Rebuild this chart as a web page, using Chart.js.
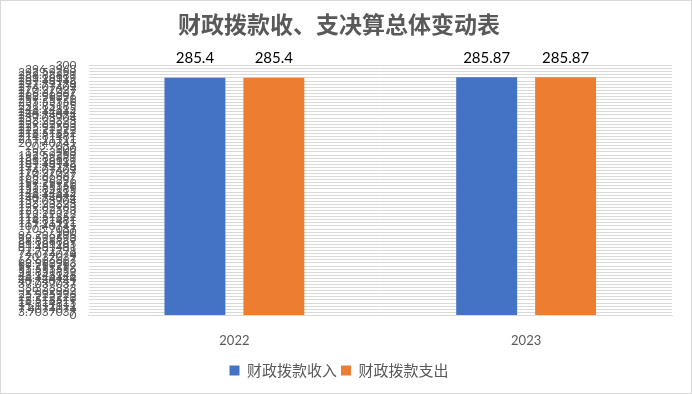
<!DOCTYPE html>
<html>
<head>
<meta charset="utf-8">
<script src="https://cdn.jsdelivr.net/npm/chart.js@4/dist/chart.umd.min.js"></script>
<style>
  html, body { margin: 0; padding: 0; background: #fff; }
  canvas { display: block; }
</style>
</head>
<body>
<canvas id="budgetChart" width="692" height="394"></canvas>
<script>
// data
var categories = ["2022", "2023"];
var incomeValues = [285.4, 285.87];
var expenseValues = [285.4, 285.87];
var seriesNames = ["财政拨款收入", "财政拨款支出"];
var seriesColors = ["#4472C4", "#ED7D31"];
var axisMax = 300;
var tickCount = 81; // the excel axis has 81 steps of 3.7037037

var TEXT_GREY = "#595959";
var GRID_GREY = "#d9d9d9";

// draws the value above every bar, like excel data labels
var valueLabels = {
  id: "valueLabels",
  afterDatasetsDraw: function (chart) {
    var ctx = chart.ctx;
    ctx.save();
    ctx.fillStyle = "#000";
    ctx.font = "15px Lato, 'Noto Sans', sans-serif";
    ctx.textAlign = "center";
    ctx.textBaseline = "bottom";
    chart.data.datasets.forEach(function (ds, i) {
      chart.getDatasetMeta(i).data.forEach(function (bar, j) {
        ctx.fillText(String(ds.data[j]), bar.x, bar.y - 12);
      });
    });
    ctx.restore();
  },
};

// white background and the thin frame round the whole chart
var frame = {
  id: "frame",
  beforeDraw: function (chart) {
    var ctx = chart.ctx;
    ctx.save();
    ctx.fillStyle = "#fff";
    ctx.fillRect(0, 0, chart.width, chart.height);
    ctx.restore();
  },
  afterDraw: function (chart) {
    var ctx = chart.ctx;
    ctx.save();
    ctx.strokeStyle = GRID_GREY;
    ctx.lineWidth = 1;
    ctx.strokeRect(0.5, 0.5, chart.width - 1, chart.height - 1);
    ctx.restore();
  },
};

function formatTick(value) {
  return String(parseFloat(value.toPrecision(8)));
}

new Chart(document.getElementById("budgetChart"), {
  type: "bar",
  data: {
    labels: categories,
    datasets: [
      {
        label: seriesNames[0],
        data: incomeValues,
        backgroundColor: seriesColors[0],
      },
      {
        label: seriesNames[1],
        data: expenseValues,
        backgroundColor: seriesColors[1],
      },
    ],
  },
  options: {
    responsive: false,
    animation: false,
    datasets: {
      bar: {
        categoryPercentage: 0.541,
        barPercentage: 0.772,
      },
    },
    layout: {
      padding: { left: 6, right: 20, top: 0, bottom: 6 },
    },
    plugins: {
      title: {
        display: true,
        text: "财政拨款收、支决算总体变动表",
        color: TEXT_GREY,
        font: { family: "'Noto Sans CJK SC'", size: 23, weight: "bold" },
        padding: { top: 10, bottom: 28 },
      },
      legend: {
        position: "bottom",
        labels: {
          color: TEXT_GREY,
          font: { family: "'Noto Sans CJK SC'", size: 15 },
          boxWidth: 10,
          boxHeight: 10,
          padding: 4,
        },
      },
      tooltip: { enabled: false },
    },
    scales: {
      x: {
        grid: { display: false },
        border: { display: true, color: GRID_GREY },
        ticks: {
          color: TEXT_GREY,
          font: { family: "Lato, 'Noto Sans', sans-serif", size: 13 },
          padding: 10,
        },
      },
      y: {
        min: 0,
        max: axisMax,
        grid: { color: GRID_GREY, drawTicks: false },
        border: { display: false },
        afterBuildTicks: function (scale) {
          var ticks = [];
          for (var k = 0; k <= tickCount; k++) {
            ticks.push({ value: (k * axisMax) / tickCount });
          }
          scale.ticks = ticks;
        },
        ticks: {
          autoSkip: false,
          color: TEXT_GREY,
          font: { family: "Lato, 'Noto Sans', sans-serif", size: 12 },
          padding: 12,
          callback: function (value) {
            return formatTick(value);
          },
        },
      },
    },
  },
  plugins: [valueLabels, frame],
});
</script>
</body>
</html>
